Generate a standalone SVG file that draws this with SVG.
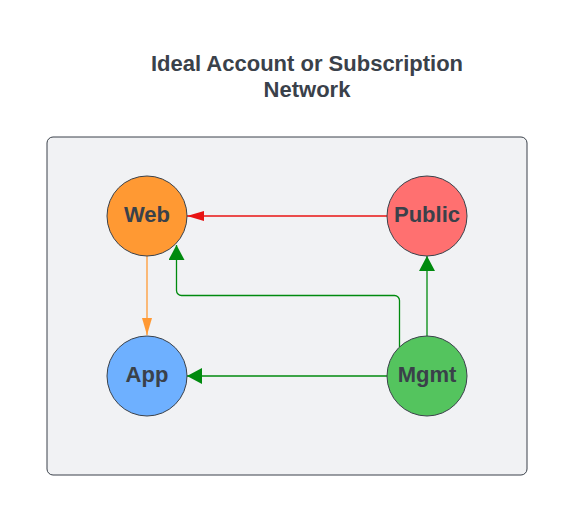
<svg xmlns="http://www.w3.org/2000/svg" width="573" height="520" viewBox="0 0 573 520">
<style>
.t{font-family:"Liberation Sans",Arial,sans-serif;font-weight:bold;fill:#3a414a;text-anchor:middle}
.n{stroke:#3a414a;stroke-width:1}
.c{fill:none;stroke-width:1.3}
</style>
<defs>
<marker id="ag" viewBox="0 0 15 16" refX="15" refY="8" markerWidth="15" markerHeight="16" markerUnits="userSpaceOnUse" orient="auto"><path d="M0,0L15,8L0,16Z" fill="#008a0e"/></marker>
<marker id="ar" viewBox="0 0 17 10" refX="17" refY="5" markerWidth="17" markerHeight="10" markerUnits="userSpaceOnUse" orient="auto"><path d="M0,0L17,5L0,10Z" fill="#e81313"/></marker>
<marker id="ao" viewBox="0 0 17 10" refX="17" refY="5" markerWidth="17" markerHeight="10" markerUnits="userSpaceOnUse" orient="auto"><path d="M0,0L17,5L0,10Z" fill="#ff9933"/></marker>
</defs>
<rect width="573" height="520" fill="#ffffff"/>
<text class="t" x="307" y="71" font-size="22">Ideal Account or Subscription</text>
<text class="t" x="307" y="97" font-size="22">Network</text>
<rect id="container" x="47" y="137" width="480" height="338" rx="6" fill="#f1f2f4" stroke="#3a414a" stroke-width="1"/>
<g id="connectors">
<path class="c" d="M387,216H187" stroke="#e81313" marker-end="url(#ar)"/>
<path class="c" d="M147,256V335" stroke="#ff9933" marker-end="url(#ao)"/>
<path class="c" d="M399.5,347V300.5a5,5 0 0 0 -5,-5H181.5a5,5 0 0 1 -5,-5V245" stroke="#008a0e" marker-end="url(#ag)"/>
<path class="c" d="M427,336V256" stroke="#008a0e" marker-end="url(#ag)"/>
<path class="c" d="M387,376H187" stroke="#008a0e" marker-end="url(#ag)"/>
</g>
<g id="web"><circle class="n" cx="147" cy="216" r="40" fill="#ff9933"/><text class="t" x="147" y="221.5" font-size="22">Web</text></g>
<g id="public"><circle class="n" cx="427" cy="216" r="40" fill="#ff7070"/><text class="t" x="427" y="221.5" font-size="22">Public</text></g>
<g id="app"><circle class="n" cx="147" cy="376" r="40" fill="#6eb0ff"/><text class="t" x="147" y="381.5" font-size="22">App</text></g>
<g id="mgmt"><circle class="n" cx="427" cy="376" r="40" fill="#54c45e"/><text class="t" x="427" y="381.5" font-size="22">Mgmt</text></g>
</svg>
